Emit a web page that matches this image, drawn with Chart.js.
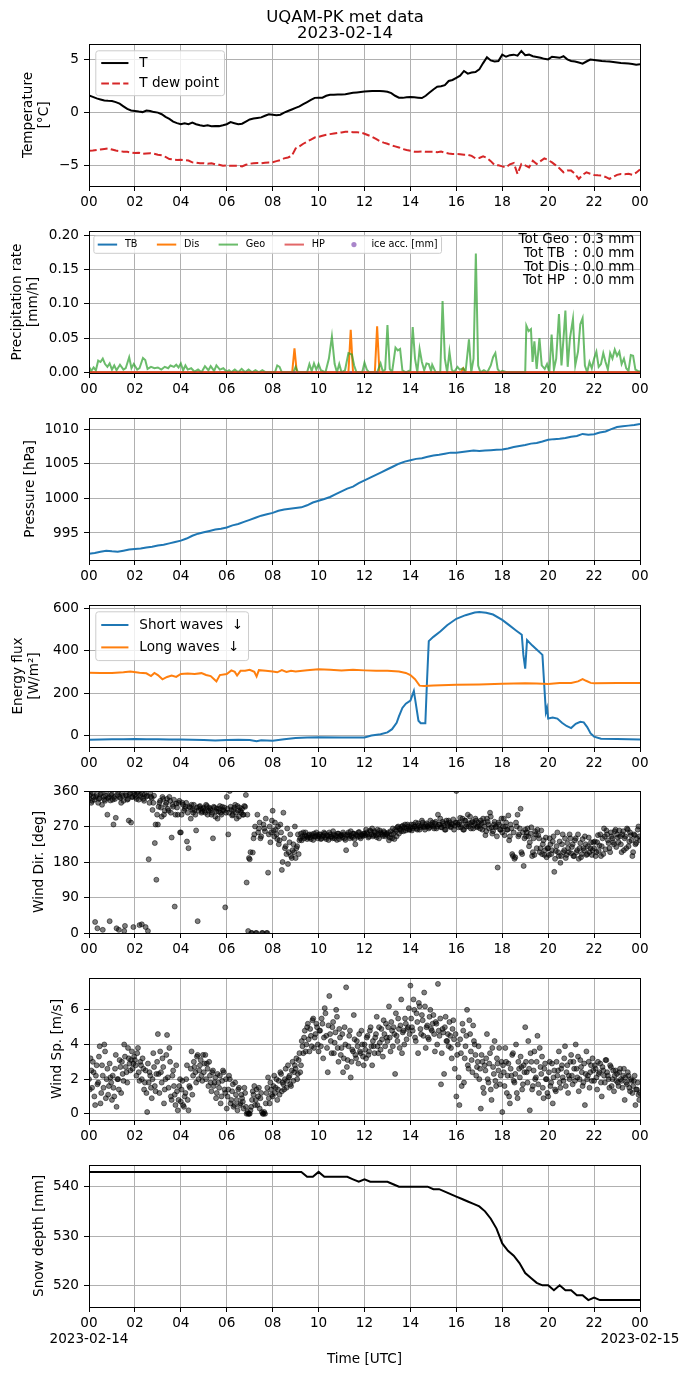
<!DOCTYPE html>
<html>
<head>
<meta charset="utf-8">
<script src="https://cdn.jsdelivr.net/npm/chart.js@4.4.1/dist/chart.umd.min.js"></script>
<style>
  html, body { margin: 0; padding: 0; background: #fff; }
  body { width: 690px; height: 1377px; position: relative; overflow: hidden; }
  canvas { position: absolute; left: 0; }
</style>
</head>
<body>
<script>
// ---- axis ticks ----
const HOURS = [0, 2, 4, 6, 8, 10, 12, 14, 16, 18, 20, 22, 24];
const HOUR_LABELS = ['00', '02', '04', '06', '08', '10', '12', '14', '16', '18', '20', '22', '00'];
const DATE_FIRST = '2023-02-14';
const DATE_LAST = '2023-02-15';

// ---- temperature, every 10 min ----
const TEMP = [
  1.64, 1.5, 1.35, 1.25, 1.15, 1.12,
  1.1, 1.0, 0.85, 0.6, 0.35, 0.2,
  0.16, 0.1, 0.05, 0.2, 0.15, 0.05,
  0.0, -0.15, -0.4, -0.6, -0.85, -1.0,
  -1.1, -1.0, -1.1, -0.95, -1.1, -1.2,
  -1.26, -1.2, -1.3, -1.26, -1.28, -1.2,
  -1.1, -0.9, -1.0, -1.1, -1.05, -0.85,
  -0.65, -0.55, -0.5, -0.45, -0.3, -0.15,
  -0.2, -0.25, -0.2, 0.0, 0.15, 0.3,
  0.45, 0.6, 0.8, 1.0, 1.2, 1.4,
  1.42, 1.42, 1.6, 1.7, 1.7, 1.72,
  1.72, 1.75, 1.82, 1.88, 1.92, 1.96,
  2.0, 2.02, 2.04, 2.04, 2.05, 2.03,
  1.98, 1.85, 1.6, 1.42, 1.4, 1.45,
  1.48, 1.45, 1.42, 1.38, 1.6, 1.9,
  2.2, 2.45, 2.5, 2.6, 3.0, 3.1,
  3.3, 3.5, 3.95, 3.7, 3.8, 3.85,
  4.1, 4.7, 5.25, 4.95, 4.85, 4.9,
  5.5, 5.3, 5.45, 5.5, 5.4, 5.85,
  5.45, 5.5, 5.35, 5.28, 5.2, 5.1,
  5.05, 5.3, 5.25, 5.2, 5.35, 5.05,
  4.9, 4.85, 4.75, 4.65, 4.85, 5.03,
  5.0, 4.95, 4.9, 4.87, 4.85, 4.8,
  4.75, 4.7, 4.68, 4.65, 4.62, 4.55,
  4.58
];
const TDEW = [
  -3.62, -3.6, -3.55, -3.5, -3.45, -3.4,
  -3.5, -3.6, -3.65, -3.7, -3.72, -3.78,
  -3.84, -3.8, -3.9, -3.87, -3.85, -3.9,
  -4.0, -4.05, -4.2, -4.4, -4.45, -4.5,
  -4.47, -4.5, -4.55, -4.72, -4.75, -4.8,
  -4.8, -4.85, -4.8, -4.9, -4.95, -5.03,
  -5.0, -5.05, -5.03, -5.03, -5.1, -4.95,
  -4.85, -4.8, -4.78, -4.8, -4.75, -4.72,
  -4.7, -4.6, -4.5, -4.34, -4.25, -4.1,
  -3.4, -3.2, -2.95, -2.75, -2.55, -2.36,
  -2.3, -2.2, -2.1, -2.04, -1.98, -1.92,
  -1.88, -1.82, -1.82, -1.85, -1.85, -1.89,
  -2.0, -2.15, -2.3, -2.5, -2.7, -2.85,
  -2.95, -3.1, -3.2, -3.3, -3.45, -3.55,
  -3.62, -3.7, -3.7, -3.68, -3.72, -3.7,
  -3.7, -3.75, -3.7, -3.8, -3.88, -3.93,
  -3.93, -3.95, -4.0, -4.0, -4.1, -4.34,
  -4.3, -4.15, -4.3, -4.6, -4.97, -5.0,
  -5.1, -5.19, -4.9, -4.78, -5.82, -4.87,
  -5.0, -5.19, -4.56, -4.87, -4.6, -4.34,
  -4.5, -4.72, -5.0, -5.3, -5.66, -5.5,
  -5.5, -5.8, -6.29, -5.9, -5.66, -5.8,
  -5.91, -5.95, -5.97, -6.1, -6.29, -6.1,
  -5.9, -5.82, -5.85, -5.8, -5.9, -5.7,
  -5.4
];

// ---- precipitation rate, [hour, mm/h] ----
const PREC_LABELS = ['TB', 'Dis', 'Geo', 'HP', 'ice acc. [mm]'];
const PREC_TB = [[0, 0], [24, 0]];
const PREC_HP = [[0, 0], [24, 0]];
const PREC_DIS = [[0, 0], [8.85, 0], [8.95, 0.035], [9.05, 0], [11.3, 0], [11.4, 0.062], [11.5, 0],
  [12.45, 0], [12.55, 0.067], [12.65, 0], [16.2, 0], [16.3, 0.006], [16.4, 0], [24, 0]];
const PREC_GEO = [
  [0, .008], [0.1, .002], [0.2, .007], [0.3, .003], [0.4, .017], [0.5, .015], [0.6, .02], [0.7, .012],
  [0.8, .008], [0.9, .013], [1.0, .004], [1.1, .01], [1.2, .003], [1.35, .011], [1.5, .004], [1.6, .006],
  [1.75, .022], [1.85, .006], [1.95, .012], [2.1, .004], [2.2, .006], [2.35, .021], [2.45, .018], [2.55, .005],
  [2.7, .008], [2.85, .006], [3.0, .007], [3.15, .004], [3.3, .008], [3.45, .006], [3.55, .01], [3.7, .008],
  [3.8, .011], [3.9, .007], [4.0, .013], [4.1, .003], [4.2, .01], [4.3, .004], [4.45, .006], [4.6, .001],
  [4.75, .004], [4.9, 0], [5.05, .009], [5.2, .003], [5.3, .009], [5.45, .002], [5.55, .01], [5.7, .004],
  [5.85, .006], [6.0, .001], [6.1, .003], [6.2, 0], [6.35, .004], [6.5, 0], [6.65, .005], [6.8, 0],
  [6.95, .004], [7.1, 0], [7.25, .003], [7.4, 0], [7.55, .003], [7.7, 0], [8.1, 0], [8.2, .01],
  [8.3, .008], [8.4, 0], [8.9, 0], [9.0, .008], [9.1, 0], [9.5, 0], [9.6, .012], [9.7, .002],
  [9.8, .013], [9.9, .004], [10.0, .012], [10.1, .003], [10.3, 0], [10.45, .02], [10.58, .052], [10.7, .012],
  [10.8, 0], [10.9, .012], [11.0, 0], [11.15, .003], [11.3, .028], [11.45, .026], [11.55, .01], [11.65, 0],
  [11.9, 0], [12.0, .014], [12.1, .004], [12.2, 0], [12.55, 0], [12.7, .013], [12.8, .001], [12.9, .004],
  [13.0, .069], [13.1, .005], [13.2, 0], [13.35, .036], [13.45, .032], [13.55, .034], [13.65, .003], [13.8, 0],
  [14.0, .003], [14.1, .066], [14.2, .02], [14.3, 0], [14.4, .034], [14.5, .015], [14.6, .003], [14.7, .013],
  [14.8, .012], [14.9, .002], [14.95, .011], [15.1, 0], [15.3, 0], [15.4, .104], [15.5, .02], [15.6, 0],
  [15.7, .03], [15.8, .004], [15.9, 0], [16.05, .008], [16.15, .004], [16.3, .006], [16.4, 0], [16.55, .048],
  [16.65, 0], [16.75, .02], [16.85, .173], [16.95, .01], [17.05, 0], [17.2, .003], [17.35, 0], [17.5, .01],
  [17.6, .022], [17.7, .028], [17.8, .005], [17.9, 0], [18.0, .002], [18.2, 0], [19.0, 0], [19.05, .068],
  [19.15, .06], [19.25, .063], [19.32, .015], [19.4, .045], [19.5, .005], [19.62, .05], [19.72, .01], [19.85, .005],
  [19.95, .012], [20.05, 0], [20.15, .055], [20.25, .004], [20.35, .02], [20.47, .085], [20.58, .01], [20.68, .055],
  [20.75, .09], [20.85, .008], [20.95, .05], [21.08, .078], [21.18, .01], [21.3, .03], [21.4, .07], [21.5, .079],
  [21.6, .01], [21.7, 0], [21.8, .015], [21.9, .006], [22.0, .02], [22.1, .03], [22.2, .008], [22.3, .012],
  [22.4, .028], [22.5, .015], [22.6, .004], [22.7, .028], [22.8, .02], [22.9, .033], [23.0, .024], [23.1, .03],
  [23.2, .012], [23.3, .02], [23.4, .006], [23.5, .002], [23.6, .025], [23.7, .024], [23.8, .004], [23.9, .002],
  [24.0, .001]
];
const PREC_TOTALS = ['Tot Geo : 0.3 mm', 'Tot TB  : 0.0 mm', 'Tot Dis : 0.0 mm', 'Tot HP  : 0.0 mm'];

// ---- pressure, every 15 min ----
const PRES = [
  992.0, 992.1, 992.3, 992.45, 992.35, 992.3, 992.45, 992.6,
  992.7, 992.75, 992.9, 993.0, 993.2, 993.3, 993.5, 993.7,
  993.9, 994.2, 994.6, 994.9, 995.1, 995.3, 995.5, 995.6,
  995.8, 996.1, 996.3, 996.6, 996.9, 997.2, 997.5, 997.7,
  997.9, 998.2, 998.4, 998.5, 998.6, 998.7, 999.0, 999.4,
  999.65, 999.9, 1000.2, 1000.6, 1001.0, 1001.4, 1001.7, 1002.2,
  1002.6, 1003.0, 1003.4, 1003.8, 1004.2, 1004.6, 1005.0, 1005.3,
  1005.5, 1005.7, 1005.8, 1006.0, 1006.2, 1006.3, 1006.45, 1006.6,
  1006.6, 1006.7, 1006.8, 1006.9, 1006.85, 1006.9, 1006.95, 1007.0,
  1007.05, 1007.2, 1007.4, 1007.55, 1007.7, 1007.9, 1008.0, 1008.2,
  1008.45, 1008.55, 1008.6, 1008.7, 1008.9, 1009.0, 1009.3, 1009.2,
  1009.25, 1009.5, 1009.65, 1010.0, 1010.3, 1010.4, 1010.5, 1010.6,
  1010.75
];

// ---- radiation, [hour, W/m2] ----
const SW_LABEL = 'Short waves  \u2193';
const LW_LABEL = 'Long waves  \u2193';
const SW = [
  [0, -20], [0.5, -19], [1, -18], [1.5, -17], [2, -16], [2.5, -18], [3, -18], [3.5, -19], [4, -19], [4.5, -20],
  [5, -21], [5.5, -23], [6, -21], [6.5, -20], [7, -21], [7.3, -27], [7.5, -22], [8, -24], [8.5, -18], [9, -12],
  [9.5, -9], [10, -8], [11, -9], [12, -9], [12.3, 0], [12.7, 6], [13, 15], [13.2, 30], [13.4, 60], [13.5, 90],
  [13.65, 130], [13.8, 150], [14.0, 165], [14.1, 195], [14.15, 210], [14.25, 140], [14.35, 70], [14.45, 58], [14.65, 58], [14.72, 250],
  [14.8, 445], [15.0, 465], [15.3, 490], [15.6, 520], [16.0, 550], [16.4, 567], [16.8, 580], [17.0, 582], [17.3, 578], [17.6, 570],
  [18.0, 545], [18.3, 520], [18.6, 495], [18.85, 475], [18.92, 380], [19.0, 315], [19.08, 450], [19.3, 425], [19.5, 405], [19.75, 380],
  [19.85, 200], [19.9, 110], [19.95, 130], [20.0, 80], [20.2, 85], [20.4, 80], [20.6, 60], [20.8, 45], [21.0, 35], [21.2, 55],
  [21.4, 65], [21.55, 62], [21.7, 40], [21.85, 10], [22.0, -5], [22.3, -15], [23, -16], [24, -19]
];
const LW = [
  [0, 296], [0.5, 295], [1, 295], [1.5, 298], [1.8, 302], [2.2, 296], [2.5, 293], [2.7, 280], [2.85, 295], [3.0, 285],
  [3.2, 265], [3.4, 276], [3.6, 283], [3.8, 276], [4.0, 290], [4.3, 292], [4.6, 290], [4.9, 294], [5.1, 285], [5.3, 280],
  [5.45, 265], [5.55, 255], [5.7, 285], [6.0, 290], [6.2, 307], [6.35, 300], [6.45, 283], [6.6, 305], [6.8, 305], [7.0, 310],
  [7.2, 300], [7.3, 278], [7.4, 308], [7.7, 305], [8.0, 302], [8.2, 298], [8.4, 308], [8.6, 300], [8.8, 305], [9.0, 302],
  [9.5, 308], [10, 312], [10.5, 310], [11, 307], [11.5, 310], [12, 307], [12.5, 305], [13, 305], [13.5, 302], [13.8, 295],
  [14.0, 285], [14.2, 265], [14.4, 235], [14.6, 233], [15, 236], [16, 239], [17, 241], [18, 244], [19, 246], [19.5, 245],
  [20, 243], [20.5, 247], [21, 248], [21.3, 255], [21.5, 266], [21.65, 258], [21.85, 248], [22, 246], [23, 247], [24, 248]
];

// ---- wind, every 4 min (15 per hour); the _B arrays are the samples 2 min later ----
const WIND_DIR = [
  340, 352, 335, 345, 28, 350, 330, 342, 355, 8, 338, 348, 300, 345, 336,
  352, 275, 340, 12, 356, 345, 330, 348, 5, 350, 338, 285, 355, 345, 15,
  350, 340, 358, 20, 345, 352, 335, 15, 348, 187, 355, 342, 330, 228, 135,
  275, 330, 318, 345, 300, 325, 340, 310, 335, 242, 320, 67, 328, 300, 335,
  255, 330, 310, 320, 232, 215, 318, 325, 305, 312, 260, 30, 320, 315, 308,
  318, 305, 322, 310, 315, 300, 240, 318, 308, 290, 315, 305, 320, 310, 65,
  345, 250, 360, 312, 300, 318, 305, 322, 295, 310, 315, 300, 320, 128, 5,
  187, 0, 204, 250, 0, 300, 265, 240, 0, 275, 258, 0, 153, 270, 255,
  310, 245, 262, 238, 225, 275, 160, 305, 215, 200, 175, 230, 195, 210, 205,
  190, 220, 200, 240, 235, 255, 248, 245, 242, 250, 238, 246, 252, 244, 248,
  245, 250, 240, 248, 252, 238, 246, 255, 244, 240, 250, 247, 236, 252, 245,
  248, 255, 240, 210, 250, 246, 258, 243, 252, 225, 248, 255, 244, 250, 246,
  252, 262, 250, 245, 258, 265, 248, 255, 243, 250, 260, 252, 246, 255, 250,
  248, 235, 258, 240, 252, 262, 245, 270, 265, 258, 272, 268, 260, 275, 262,
  268, 260, 275, 270, 265, 278, 262, 272, 280, 268, 275, 270, 265, 285, 272,
  270, 278, 265, 300, 275, 268, 282, 272, 262, 278, 285, 270, 276, 288, 272,
  360, 275, 280, 268, 290, 262, 285, 275, 270, 295, 280, 265, 278, 285, 270,
  272, 285, 262, 280, 248, 290, 275, 305, 268, 258, 282, 270, 166, 275, 262,
  255, 290, 270, 262, 298, 245, 265, 195, 188, 280, 300, 250, 315, 200, 170,
  262, 255, 245, 230, 268, 205, 198, 250, 262, 240, 215, 200, 235, 210, 192,
  215, 240, 200, 232, 155, 208, 255, 195, 178, 225, 205, 240, 198, 215, 250,
  202, 225, 195, 240, 210, 188, 228, 200, 215, 245, 198, 220, 205, 230, 210,
  215, 195, 230, 208, 250, 220, 200, 245, 260, 235, 215, 255, 240, 225, 262,
  250, 230, 245, 205, 258, 240, 215, 262, 232, 248, 195, 250, 225, 240, 270,
  235
];
const WIND_DIR_B = [
  348, 330, 355, 338, 345, 12, 340, 352, 325, 346, 335, 358, 342, 30, 350,
  338, 345, 292, 350, 8, 342, 355, 335, 18, 348, 340, 352, 280, 345, 358,
  345, 355, 338, 350, 22, 340, 352, 346, 5, 330, 345, 312, 348, 275, 300,
  320, 335, 295, 340, 310, 330, 315, 345, 305, 325, 338, 300, 318, 330, 255,
  300, 325, 315, 330, 305, 320, 290, 312, 325, 300, 318, 310, 322, 305, 315,
  310, 325, 300, 318, 312, 305, 320, 295, 315, 308, 322, 300, 312, 318, 305,
  315, 305, 320, 298, 312, 325, 290, 310, 318, 305, 300, 322, 350, 300, 190,
  205, 0, 240, 270, 0, 255, 280, 245, 0, 265, 290, 0, 250, 230, 285,
  260, 280, 250, 270, 235, 255, 180, 240, 220, 265, 205, 250, 190, 225, 270,
  215, 250, 235, 252, 245, 240, 255, 238, 248, 242, 250, 236, 245, 255, 240,
  250, 238, 245, 255, 242, 248, 236, 250, 244, 258, 240, 246, 252, 238, 248,
  242, 250, 236, 248, 255, 240, 246, 252, 238, 250, 244, 256, 240, 248, 252,
  248, 255, 242, 260, 250, 245, 258, 248, 262, 240, 255, 250, 258, 245, 252,
  255, 242, 250, 265, 238, 258, 268, 252, 262, 270, 258, 275, 265, 270, 262,
  275, 265, 270, 280, 262, 272, 268, 285, 270, 262, 278, 272, 268, 275, 280,
  265, 282, 270, 275, 290, 268, 278, 262, 285, 272, 280, 268, 275, 262, 280,
  280, 268, 292, 275, 262, 285, 270, 300, 278, 265, 282, 272, 290, 268, 280,
  265, 278, 290, 270, 258, 282, 265, 295, 252, 275, 268, 245, 280, 262, 290,
  270, 248, 280, 262, 235, 275, 200, 255, 192, 270, 245, 265, 205, 255, 240,
  245, 265, 220, 252, 195, 240, 258, 215, 248, 205, 260, 225, 198, 242, 215,
  198, 225, 210, 245, 188, 220, 205, 232, 195, 250, 210, 190, 228, 205, 240,
  218, 195, 235, 205, 250, 215, 192, 238, 210, 225, 200, 242, 215, 198, 230,
  232, 205, 248, 222, 195, 240, 265, 212, 250, 228, 205, 245, 230, 258, 218,
  242, 260, 225, 250, 210, 245, 265, 220, 255, 235, 205, 248, 228, 262, 245
];
const WIND_SP = [
  2.0, 3.2, 1.5, 2.4, 0.5, 2.8, 1.8, 3.9, 1.2, 2.2, 4.0, 0.9, 2.6, 1.6, 2.1,
  0.8, 1.5, 2.6, 0.4, 2.0, 3.1, 1.2, 2.3, 4.0, 2.7, 1.8, 3.2, 2.5, 3.6, 2.9,
  3.1, 2.2, 3.8, 1.9, 2.8, 3.2, 1.4, 2.5, 0.1, 1.8, 2.2, 0.9, 3.5, 1.6, 2.3,
  4.6, 1.2, 2.4, 3.2, 0.6, 2.0, 4.55, 1.5, 3.0, 0.8, 2.5, 1.1, 2.8, 0.2, 1.6,
  0.7, 1.9, 0.4, 1.2, 2.8, 0.2, 1.5, 3.6, 2.2, 2.7, 1.8, 3.4, 2.5, 3.1, 1.9,
  2.4, 3.4, 2.9, 1.6, 2.2, 1.3, 2.5, 1.8, 0.9, 2.3, 1.5, 0.6, 1.9, 2.4, 1.2,
  0.3, 1.4, 2.0, 0.8, 1.7, 0.5, 1.1, 0.2, 1.5, 0.6, 0.9, 0.3, 1.2, 0.0, 0.0,
  0.0, 0.4, 1.3, 1.6, 0.8, 0.5, 1.5, 0.9, 0.1, 0.0, 0.0, 1.2, 2.1, 0.6, 1.4,
  1.0, 2.2, 1.5, 0.8, 1.9, 2.4, 1.3, 1.7, 2.0, 1.5, 2.8, 2.2, 1.6, 3.0, 2.4,
  2.6, 2.0, 3.1, 2.4, 4.2, 3.5, 4.8, 4.0, 5.2, 3.6, 4.5, 5.4, 3.8, 4.6, 5.0,
  3.6, 4.8, 5.5, 3.2, 6.1, 4.5, 2.4, 6.8, 4.2, 5.0, 3.5, 4.7, 5.6, 3.0, 4.4,
  3.8, 2.4, 5.0, 7.3, 3.1, 4.5, 2.1, 3.7, 5.7, 3.4, 4.2, 2.9, 3.6, 4.8, 3.3,
  4.0, 3.2, 4.5, 3.6, 5.0, 2.8, 3.9, 4.4, 5.6, 3.5, 4.1, 4.9, 3.3, 4.6, 5.2,
  4.2, 6.2, 3.6, 4.8, 5.0, 2.3, 4.5, 5.5, 3.8, 6.6, 4.7, 4.0, 5.2, 4.9, 6.1,
  7.4, 5.0, 6.6, 4.4, 5.8, 3.5, 6.2, 4.6, 5.4, 7.0, 3.8, 5.1, 4.3, 6.0, 4.8,
  5.7, 3.6, 5.2, 7.5, 4.5, 1.7, 4.9, 2.3, 5.6, 4.2, 3.9, 4.5, 3.2, 5.4, 2.6,
  1.0, 4.0, 0.5, 3.5, 5.2, 1.8, 3.9, 6.0, 2.6, 4.6, 3.1, 5.1, 4.0, 2.2, 3.0,
  2.0, 0.3, 3.0, 1.2, 2.5, 4.6, 1.8, 3.5, 0.8, 2.7, 4.2, 1.6, 2.9, 3.8, 2.2,
  0.1, 2.4, 3.8, 1.2, 2.9, 0.6, 2.2, 3.5, 1.8, 4.0, 0.9, 2.6, 3.3, 1.4, 2.8,
  5.0, 2.4, 4.2, 0.2, 3.0, 1.6, 3.6, 2.1, 4.5, 1.2, 2.7, 3.3, 0.9, 2.9, 2.0,
  1.0, 3.0, 1.8, 0.6, 2.5, 1.3, 2.2, 3.6, 1.5, 2.8, 1.9, 3.9, 2.4, 1.2, 2.0,
  3.4, 1.7, 2.6, 4.0, 2.1, 1.3, 3.1, 2.4, 1.8, 0.5, 3.6, 2.2, 1.5, 2.8, 3.2,
  1.9, 2.6, 1.4, 2.3, 2.9, 1.0, 2.5, 1.8, 3.1, 2.2, 1.5, 2.7, 2.0, 1.3, 2.5,
  2.3, 1.6, 2.6, 1.9, 2.2, 0.8, 1.8, 2.4, 1.5, 2.0, 1.2, 1.9, 0.5, 1.4, 1.1,
  1.2
];
const WIND_SP_B = [
  1.4, 2.5, 3.0, 1.0, 2.2, 1.7, 3.3, 0.6, 2.8, 1.5, 3.6, 2.0, 1.1, 2.9, 1.8,
  2.2, 1.0, 3.4, 2.0, 1.4, 2.7, 3.0, 1.9, 3.3, 2.4, 3.8, 2.9, 3.1, 2.6, 3.3,
  2.8, 3.5, 2.4, 3.0, 2.0, 2.6, 1.8, 1.2, 2.9, 2.4, 1.5, 2.0, 2.7, 1.3, 3.0,
  2.3, 3.6, 1.8, 2.7, 1.4, 3.4, 2.1, 3.8, 1.0, 2.2, 1.6, 0.5, 1.3, 0.8, 2.0,
  1.4, 0.5, 1.0, 2.0, 0.8, 1.6, 2.6, 1.1, 3.0, 2.4, 3.3, 2.0, 2.8, 2.2, 3.4,
  2.9, 2.0, 2.6, 3.0, 1.8, 2.4, 1.6, 2.1, 1.2, 1.8, 2.2, 1.0, 2.5, 1.4, 2.0,
  1.0, 2.2, 0.6, 1.3, 0.4, 1.8, 0.8, 1.4, 0.5, 1.1, 0.7, 1.5, 0.4, 0.1, 0.0,
  0.2, 0.8, 1.1, 0.5, 1.4, 1.0, 0.3, 1.2, 0.0, 0.1, 0.6, 1.5, 0.9, 1.8, 1.1,
  1.6, 1.2, 2.0, 1.4, 1.1, 2.3, 1.8, 1.4, 2.6, 1.9, 2.1, 1.7, 2.5, 1.9, 2.8,
  3.2, 2.3, 3.5, 2.8, 3.9, 4.4, 3.6, 5.0, 4.3, 4.9, 3.9, 5.5, 4.4, 5.2, 4.0,
  4.8, 3.9, 5.2, 4.4, 5.8, 3.8, 5.1, 4.6, 3.5, 5.3, 4.1, 6.0, 3.8, 4.9, 3.4,
  4.6, 3.2, 4.0, 2.7, 3.9, 4.8, 3.0, 3.6, 4.3, 3.2, 3.9, 4.6, 3.5, 4.0, 2.8,
  3.7, 4.4, 3.4, 4.8, 3.9, 4.2, 3.5, 4.6, 3.9, 5.0, 3.7, 4.3, 5.4, 3.9, 4.4,
  5.0, 4.4, 5.3, 3.9, 4.6, 5.8, 4.2, 4.9, 5.1, 3.5, 4.8, 5.5, 4.3, 5.0, 4.6,
  5.5, 4.8, 6.0, 4.2, 5.3, 6.4, 4.9, 5.7, 4.5, 6.2, 5.0, 4.4, 5.6, 4.9, 5.2,
  4.6, 5.3, 4.0, 4.8, 5.5, 3.5, 4.7, 5.0, 4.2, 4.6, 5.3, 3.8, 4.9, 4.3, 4.6,
  3.4, 2.1, 4.3, 1.6, 4.8, 3.2, 4.5, 2.8, 5.4, 3.6, 2.4, 4.2, 3.4, 2.7, 3.9,
  2.6, 3.4, 1.5, 2.8, 3.2, 2.0, 2.9, 1.4, 3.8, 2.3, 1.9, 3.2, 2.5, 1.7, 3.0,
  2.8, 1.6, 3.0, 2.2, 1.0, 2.6, 3.4, 1.9, 2.3, 1.2, 3.0, 2.1, 2.7, 1.7, 2.4,
  3.0, 1.8, 2.6, 3.5, 1.4, 2.5, 2.0, 3.0, 1.7, 3.8, 2.3, 1.5, 2.6, 2.0, 1.2,
  2.4, 1.6, 2.9, 2.1, 1.4, 3.0, 2.5, 1.8, 2.6, 2.1, 3.2, 1.6, 2.8, 2.2, 3.0,
  2.2, 3.0, 1.9, 2.6, 3.3, 2.0, 2.7, 1.6, 2.9, 2.3, 2.0, 3.0, 2.4, 1.9, 2.5,
  2.8, 2.1, 3.0, 2.4, 1.8, 2.7, 2.2, 3.1, 2.4, 2.0, 2.8, 1.6, 2.5, 2.2, 1.9,
  1.8, 2.4, 2.0, 1.5, 2.6, 2.1, 1.7, 2.2, 1.3, 1.9, 1.6, 2.2, 1.4, 1.8, 0.8
];

// ---- snow depth, every 15 min ----
const SNOW = [
  543, 543, 543, 543, 543, 543, 543, 543,
  543, 543, 543, 543, 543, 543, 543, 543,
  543, 543, 543, 543, 543, 543, 543, 543,
  543, 543, 543, 543, 543, 543, 543, 543,
  543, 543, 543, 543, 543, 543, 542, 542,
  543, 542, 542, 542, 542, 542, 541.5, 541,
  541.5, 541, 541, 541, 541, 540.5, 540, 540,
  540, 540, 540, 540, 539.5, 539.5, 539, 538.5,
  538, 537.5, 537, 536.5, 536, 535, 533.5, 531.5,
  528.5, 527, 526, 524.5, 522.5, 521.5, 520.5, 520,
  520, 519, 520, 519, 519, 518, 518, 517,
  517.5, 517, 517, 517, 517, 517, 517, 517,
  517
];

// ------------------------------------------------------------------
const FONT = "'DejaVu Sans', sans-serif";
const FS = 13.6;
const GRID = '#b0b0b0';
const BLUE = '#1f77b4', ORANGE = '#ff7f0e';
const GEO_COLOR = 'rgba(44,160,44,0.7)', HP_COLOR = 'rgba(214,39,40,0.7)';

Chart.defaults.font.family = FONT;
Chart.defaults.font.size = FS;
Chart.defaults.color = '#000';
Chart.defaults.animation = false;

const regular = (vals, step, start) => vals.map((v, i) => ({ x: (start || 0) + i * step, y: v }));
const pairs = list => list.map(p => ({ x: p[0], y: p[1] }));
const minus = v => (v < 0 ? '\u2212' + Math.abs(v) : String(v));

// black box around the axes
const framePlugin = {
  id: 'frame',
  afterDatasetsDraw(chart) {
    const { ctx, chartArea: a } = chart;
    const l = Math.round(a.left) + 0.5, t = Math.round(a.top) + 0.5;
    const r = Math.round(a.right) + 0.5, b = Math.round(a.bottom) + 0.5;
    ctx.save();
    ctx.strokeStyle = '#000';
    ctx.lineWidth = 1;
    ctx.strokeRect(l, t, r - l, b - t);
    ctx.restore();
  }
};

// matplotlib-like legend drawn inside the axes, upper left
const mplLegend = {
  id: 'mplLegend',
  afterDraw(chart, args, o) {
    if (!o || !o.items) return;
    const { ctx, chartArea: a } = chart;
    const fs = o.size, bp = 0.4 * fs, hl = 2 * fs, tp = 0.8 * fs, cs = 2 * fs;
    const rowH = o.rowH || fs, rs = o.rowGap != null ? o.rowGap : 0.5 * fs;
    const ncol = o.ncol || 1, nrow = Math.ceil(o.items.length / ncol);
    ctx.save();
    ctx.font = fs + 'px ' + FONT;
    const colW = [];
    for (let c = 0; c < ncol; c++) {
      let w = 0;
      for (let r = 0; r < nrow; r++) {
        const it = o.items[c * nrow + r];
        if (it) w = Math.max(w, ctx.measureText(it.label).width);
      }
      colW.push(hl + tp + w);
    }
    const bw = 2 * bp + colW.reduce((s, w) => s + w, 0) + (ncol - 1) * cs;
    const bh = 2 * bp + nrow * rowH + (nrow - 1) * rs;
    const x0 = a.left + 0.5 * fs, y0 = a.top + 0.5 * fs;
    ctx.beginPath();
    if (ctx.roundRect) ctx.roundRect(x0, y0, bw, bh, 0.2 * fs); else ctx.rect(x0, y0, bw, bh);
    ctx.fillStyle = 'rgba(255,255,255,0.8)';
    ctx.fill();
    ctx.strokeStyle = '#cccccc';
    ctx.lineWidth = 1;
    ctx.stroke();
    let cx = x0 + bp;
    for (let c = 0; c < ncol; c++) {
      for (let r = 0; r < nrow; r++) {
        const it = o.items[c * nrow + r];
        if (!it) continue;
        const y = y0 + bp + r * (rowH + rs) + rowH / 2;
        if (it.dot) {
          ctx.beginPath();
          ctx.arc(cx + hl / 2, y, 2.6, 0, Math.PI * 2);
          ctx.fillStyle = it.color;
          ctx.fill();
        } else {
          ctx.beginPath();
          ctx.setLineDash(it.dash || []);
          ctx.moveTo(cx, y);
          ctx.lineTo(cx + hl, y);
          ctx.strokeStyle = it.color;
          ctx.lineWidth = 2;
          ctx.stroke();
          ctx.setLineDash([]);
        }
        ctx.fillStyle = '#000';
        ctx.textAlign = 'left';
        ctx.textBaseline = 'middle';
        ctx.fillText(it.label, cx + hl + tp, y);
      }
      cx += colW[c] + cs;
    }
    ctx.restore();
  }
};

// free text blocks (figure title, totals)
const figText = {
  id: 'figText',
  afterDraw(chart, args, o) {
    if (!o || !o.blocks) return;
    const { ctx, chartArea: a } = chart;
    ctx.save();
    o.blocks.forEach(b => {
      ctx.font = b.size + 'px ' + FONT;
      ctx.fillStyle = '#000';
      ctx.textAlign = b.align || 'center';
      ctx.textBaseline = 'middle';
      const x = b.ax != null ? a.left + b.ax * (a.right - a.left) : b.x;
      const y = b.dy != null ? a.top + b.dy : b.y;
      b.lines.forEach((t, i) => ctx.fillText(t, x, y + i * b.gap));
    });
    ctx.restore();
  }
};

Chart.register(framePlugin, mplLegend, figText);

function xScale(last) {
  return {
    type: 'linear', min: 0, max: 24,
    afterBuildTicks: s => { s.ticks = HOURS.map(v => ({ value: v })); },
    afterFit: s => { s.height = last ? 70 : 30; },
    ticks: {
      autoSkip: false, maxRotation: 0, minRotation: 0, padding: 3,
      font: { size: FS, lineHeight: 1.2 },
      callback: (v, i) => {
        if (last && i === 0) return [HOUR_LABELS[i], DATE_FIRST];
        if (last && i === HOURS.length - 1) return [HOUR_LABELS[i], DATE_LAST];
        return HOUR_LABELS[i];
      }
    },
    grid: { color: GRID, lineWidth: 1, tickColor: '#000', tickLength: 5 },
    border: { display: false },
    title: last
      ? { display: true, text: 'Time [UTC]', font: { size: FS, lineHeight: 1.2 }, padding: { top: 0, bottom: 9 } }
      : { display: false }
  };
}

function yScale(min, max, ticks, title, pad, fmt) {
  return {
    type: 'linear', min: min, max: max,
    afterBuildTicks: s => { s.ticks = ticks.map(v => ({ value: v })); },
    afterFit: s => { s.width = 89; },
    ticks: { padding: 5, font: { size: FS }, callback: fmt || (v => String(v)) },
    grid: { color: GRID, lineWidth: 1, tickColor: '#000', tickLength: 5 },
    border: { display: false },
    title: { display: true, text: title, font: { size: FS, lineHeight: 1.2 }, padding: { top: pad, bottom: 0 } }
  };
}

function line(data, color, extra) {
  return Object.assign({ data: data, borderColor: color, backgroundColor: color, borderWidth: 2,
    pointRadius: 0, tension: 0, fill: false }, extra || {});
}
function dots(data) {
  return { data: data, showLine: false, pointRadius: 2.5, pointBorderWidth: 1,
    backgroundColor: 'rgba(0,0,0,0.5)', borderColor: 'rgba(0,0,0,0.5)' };
}

function panel(plotTop, padTop, xh, last, datasets, y, plugins) {
  const PLOT_H = 142;
  const c = document.createElement('canvas');
  c.width = 690;
  c.height = padTop + PLOT_H + xh;
  c.style.top = (plotTop - padTop) + 'px';
  document.body.appendChild(c);
  new Chart(c, {
    type: 'line',
    data: { datasets: datasets },
    options: {
      responsive: false,
      animation: false,
      layout: { padding: { top: padTop, right: 50, bottom: 0, left: 0 } },
      scales: { x: xScale(last), y: y },
      plugins: Object.assign({ legend: { display: false }, tooltip: { enabled: false } }, plugins || {})
    }
  });
}

// 1. temperature
panel(44, 44, 30, false,
  [line(regular(TEMP, 1 / 6), '#000000'),
   line(regular(TDEW, 1 / 6), '#d62728', { borderDash: [7.7, 3.3] })],
  yScale(-6.96, 6.51, [-5, 0, 5], ['Temperature', '[\u00b0C]'], 20, minus),
  {
    mplLegend: { size: FS, items: [
      { label: 'T', color: '#000000' },
      { label: 'T dew point', color: '#d62728', dash: [7.7, 3.3] }
    ] },
    figText: { blocks: [{ x: 345, y: 17.3, gap: 16.3, size: 16.5, align: 'center',
      lines: ['UQAM-PK met data', DATE_FIRST] }] }
  });

// 2. precipitation
panel(231, 14, 30, false,
  [line(pairs(PREC_TB), BLUE, { order: 5 }),
   line(pairs(PREC_DIS), ORANGE, { order: 4 }),
   line(pairs(PREC_GEO), GEO_COLOR, { order: 3 }),
   line(pairs(PREC_HP), HP_COLOR, { order: 2 })],
  yScale(-0.001, 0.206, [0, 0.05, 0.1, 0.15, 0.2], ['Precipitation rate', '[mm/h]'], 9, v => v.toFixed(2)),
  {
    mplLegend: { size: 9.7, ncol: 5, items: [
      { label: PREC_LABELS[0], color: BLUE },
      { label: PREC_LABELS[1], color: ORANGE },
      { label: PREC_LABELS[2], color: GEO_COLOR },
      { label: PREC_LABELS[3], color: HP_COLOR },
      { label: PREC_LABELS[4], color: 'rgba(148,103,189,0.8)', dot: true }
    ] },
    figText: { blocks: [{ ax: 0.99, dy: 8.7, gap: 13.7, size: 13.5, align: 'right', lines: PREC_TOTALS }] }
  });

// 3. pressure
panel(418, 14, 30, false,
  [line(regular(PRES, 0.25), BLUE)],
  yScale(991.1, 1011.6, [995, 1000, 1005, 1010], 'Pressure [hPa]', 22));

// 4. radiation
panel(605, 14, 30, false,
  [line(pairs(SW), BLUE, { order: 2 }), line(pairs(LW), ORANGE, { order: 1 })],
  yScale(-54, 615, [0, 200, 400, 600], ['Energy flux', '[W/m\u00b2]'], 10),
  {
    mplLegend: { size: FS, rowH: 15.5, rowGap: 6.9, items: [
      { label: SW_LABEL, color: BLUE },
      { label: LW_LABEL, color: ORANGE }
    ] }
  });

// 5. wind direction
panel(791, 14, 30, false,
  [dots(regular(WIND_DIR, 1 / 15)), dots(regular(WIND_DIR_B, 1 / 15, 1 / 30))],
  yScale(0, 360, [0, 90, 180, 270, 360], 'Wind Dir. [deg]', 31));

// 6. wind speed
panel(978, 14, 30, false,
  [dots(regular(WIND_SP, 1 / 15)), dots(regular(WIND_SP_B, 1 / 15, 1 / 30))],
  yScale(-0.36, 7.84, [0, 2, 4, 6], 'Wind Sp. [m/s]', 49));

// 7. snow depth
panel(1165, 14, 70, true,
  [line(regular(SNOW, 0.25), '#000000')],
  yScale(515.6, 544.4, [520, 530, 540], 'Snow depth [mm]', 31));
</script>
</body>
</html>
